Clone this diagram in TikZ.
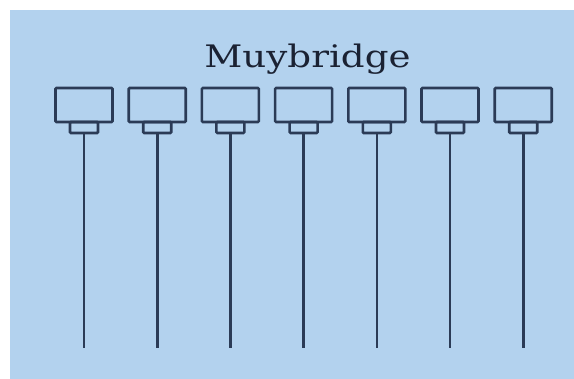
\documentclass[tikz,border=0pt]{standalone}
\usepackage{fontspec}
\newfontfamily\titlefont{DejaVu Serif}
\definecolor{bgblue}{HTML}{B3D2EE}
\definecolor{ink}{HTML}{2B3B56}
\definecolor{textink}{HTML}{1B2233}
\begin{document}
\begin{tikzpicture}[x=1pt,y=-1pt,
  cambox/.style={draw=ink,line width=2.6pt,rounded corners=1pt,minimum width=57pt,minimum height=34pt,inner sep=0pt,outer sep=0pt},
  lensbox/.style={draw=ink,line width=2.6pt,rounded corners=1pt,minimum width=28pt,minimum height=11pt,inner sep=0pt,outer sep=0pt},
  wire/.style={draw=ink,line width=2.6pt}]
\useasboundingbox (0,0) rectangle (574,379);
\fill[white] (0,0) rectangle (574,379);
\fill[bgblue] (10,10) rectangle (574,379);
\node[anchor=base,inner sep=0pt,text=textink] (title) at (307.5,68) {\titlefont\fontsize{31}{36}\selectfont\scalebox{1.2}[1]{Muybridge}};
\foreach \i in {0,...,6} {
  \pgfmathsetmacro{\cx}{84+73.2*\i}
  \node[cambox] (cam\i) at (\cx,105) {};
  \node[lensbox,anchor=north] (lens\i) at (cam\i.south) {};
  \coordinate (end\i) at (\cx,348);
  \draw[wire] (lens\i.south) -- (end\i);
}
\end{tikzpicture}
\end{document}
